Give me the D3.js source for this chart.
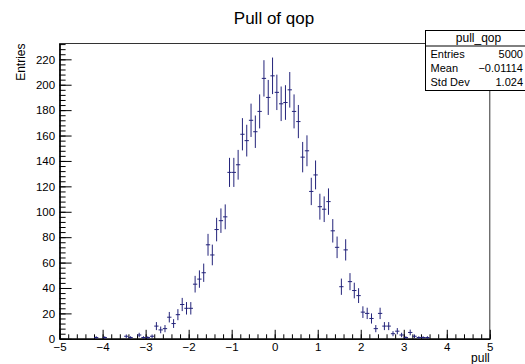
<!DOCTYPE html>
<html>
<head>
<meta charset="utf-8">
<script src="https://cdn.jsdelivr.net/npm/d3@7"></script>
<style>
  body { margin: 0; background: #fff; }
  svg { display: block; font-family: "Liberation Sans", Arial, Helvetica, sans-serif; }
  .axis path, .axis line { stroke: #000; }
  .axis text { font-size: 11.5px; fill: #000; font-family: "Liberation Sans", Arial, sans-serif; }
</style>
</head>
<body>
<div class="js-chart"></div>
<script>
// histogram pull_qop : 100 bins between -5 and 5
const X_MIN = -5;
const X_MAX = 5;
const BIN_COUNTS = [
  0, 0, 0, 0, 0, 0, 0, 0, 1, 0,
  1, 0, 0, 0, 0, 2, 1, 0, 3, 1,
  1, 2, 10, 7, 8, 17, 12, 19, 27, 24,
  24, 43, 47, 52, 74, 66, 86, 93, 96, 131,
  131, 137, 161, 156, 172, 163, 179, 205, 190, 207,
  194, 185, 186, 196, 179, 171, 143, 148, 116, 129,
  104, 102, 108, 85, 72, 41, 70, 45, 38, 34,
  21, 20, 16, 8, 20, 10, 10, 4, 6, 3,
  1, 5, 2, 1, 1, 1, 0, 0, 0, 0,
  0, 0, 0, 0, 0, 0, 0, 0, 0, 0
];
const X_TICKS = [-5, -4, -3, -2, -1, 0, 1, 2, 3, 4, 5];
const Y_TICKS = [0, 20, 40, 60, 80, 100, 120, 140, 160, 180, 200, 220];
const STAT_LABELS = ['Entries', 'Mean', 'Std Dev'];
const STAT_VALUES = ['5000', '\u22120.01114', '1.024'];
const STATS_NAME = 'pull_qop';
const TITLE = 'Pull of qop';

const WIDTH = 525;
const HEIGHT = 364;
const frame = { left: 59.6, right: 489.8, top: 43.5, bottom: 338.8 };
const LINE_COLOR = '#23237a';

let svg = d3.select('.js-chart').append('svg')
  .attr('width', WIDTH)
  .attr('height', HEIGHT);

let nBins = BIN_COUNTS.length;
let binWidth = (X_MAX - X_MIN) / nBins;
let bins = BIN_COUNTS.map((c, i) => ({
  lo: X_MIN + i * binWidth,
  hi: X_MIN + (i + 1) * binWidth,
  count: c,
  err: Math.sqrt(c)
}));

// ROOT puts 5% headroom above the highest error bar
let yMax = d3.max(bins, (d) => d.count + d.err) * 1.05;

let x = d3.scaleLinear().domain([X_MIN, X_MAX]).range([frame.left, frame.right]);
let y = d3.scaleLinear().domain([0, yMax]).range([frame.bottom, frame.top]);

// frame box
svg.append('rect')
  .attr('x', frame.left)
  .attr('y', frame.top)
  .attr('width', frame.right - frame.left)
  .attr('height', frame.bottom - frame.top)
  .attr('fill', 'none')
  .attr('stroke', '#333')
  .attr('stroke-width', 1);

// y axis, ticks pointing into the frame
let yMinor = d3.range(0, yMax, 4);
svg.append('g')
  .attr('class', 'axis')
  .attr('transform', `translate(${frame.left},0)`)
  .call(d3.axisLeft(y).tickValues(yMinor).tickSize(-6).tickSizeOuter(0).tickFormat(''));
svg.append('g')
  .attr('class', 'axis')
  .attr('transform', `translate(${frame.left},0)`)
  .call(d3.axisLeft(y).tickValues(Y_TICKS).tickSize(-12).tickSizeOuter(0).tickPadding(4.5));

// x axis
let xMinor = d3.range(X_MIN, X_MAX + 0.001, 0.2);
svg.append('g')
  .attr('class', 'axis')
  .attr('transform', `translate(0,${frame.bottom})`)
  .call(d3.axisBottom(x).tickValues(xMinor).tickSize(-4.5).tickSizeOuter(0).tickFormat(''));
svg.append('g')
  .attr('class', 'axis')
  .attr('transform', `translate(0,${frame.bottom})`)
  .call(d3.axisBottom(x).tickValues(X_TICKS).tickSize(-9).tickSizeOuter(0).tickPadding(4.5).tickFormat(d3.format('d')));

// error bars and bin widths
let filled = bins.filter((d) => d.count > 0);
let marks = svg.append('g')
  .attr('stroke', LINE_COLOR)
  .attr('stroke-width', 1);

marks.selectAll('.err')
  .data(filled)
  .enter()
  .append('line')
    .attr('class', 'err')
    .attr('x1', (d) => x((d.lo + d.hi) / 2))
    .attr('x2', (d) => x((d.lo + d.hi) / 2))
    .attr('y1', (d) => y(d.count - d.err))
    .attr('y2', (d) => y(d.count + d.err));

marks.selectAll('.bin')
  .data(filled)
  .enter()
  .append('line')
    .attr('class', 'bin')
    .attr('x1', (d) => x(d.lo))
    .attr('x2', (d) => x(d.hi))
    .attr('y1', (d) => y(d.count))
    .attr('y2', (d) => y(d.count));

// titles
svg.append('text')
  .attr('x', 274)
  .attr('y', 24)
  .attr('text-anchor', 'middle')
  .style('font-size', '17px')
  .text(TITLE);

svg.append('text')
  .attr('transform', `translate(25,${frame.top})rotate(-90)`)
  .attr('text-anchor', 'end')
  .style('font-size', '12px')
  .text('Entries');

svg.append('text')
  .attr('x', frame.right)
  .attr('y', 362)
  .attr('text-anchor', 'end')
  .style('font-size', '12px')
  .text('pull');

// stats box (runs off the right edge like the original canvas)
let stats = svg.append('g').attr('transform', 'translate(425.5,30.5)');
stats.append('rect')
  .attr('width', 120)
  .attr('height', 60)
  .attr('fill', '#fff')
  .attr('stroke', '#000');
stats.append('line')
  .attr('x1', 0).attr('x2', 120)
  .attr('y1', 15.5).attr('y2', 15.5)
  .attr('stroke', '#000');
stats.append('text')
  .attr('x', 53)
  .attr('y', 11)
  .attr('text-anchor', 'middle')
  .style('font-size', '12px')
  .text(STATS_NAME);
stats.selectAll('.lbl')
  .data(STAT_LABELS)
  .enter()
  .append('text')
    .attr('x', 5)
    .attr('y', (d, i) => 27 + i * 14.4)
    .style('font-size', '11px')
    .text((d) => d);
stats.selectAll('.val')
  .data(STAT_VALUES)
  .enter()
  .append('text')
    .attr('x', 97.5)
    .attr('y', (d, i) => 27 + i * 14.4)
    .attr('text-anchor', 'end')
    .style('font-size', '11px')
    .text((d) => d);
</script>
</body>
</html>
